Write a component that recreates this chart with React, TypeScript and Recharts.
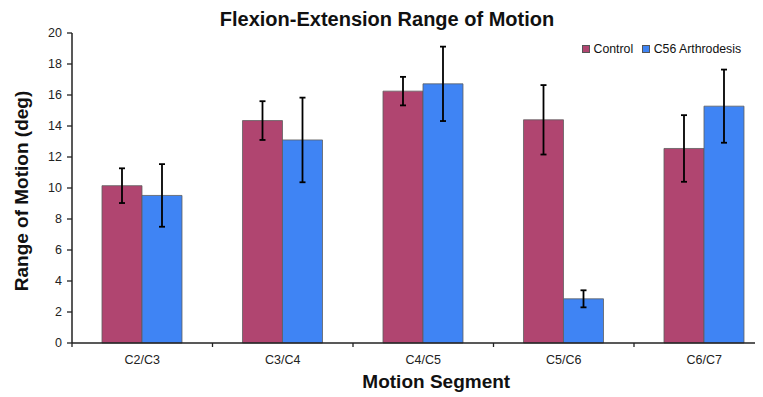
import React from 'react';
import { BarChart, Bar, XAxis, YAxis, ErrorBar, Legend, Label } from 'recharts';

const categories = ['C2/C3', 'C3/C4', 'C4/C5', 'C5/C6', 'C6/C7'];
const controlValues = [10.15, 14.35, 16.25, 14.4, 12.55];
const controlErrors = [1.12, 1.25, 0.92, 2.24, 2.15];
const arthrodesisValues = [9.52, 13.1, 16.72, 2.85, 15.28];
const arthrodesisErrors = [2.02, 2.73, 2.4, 0.55, 2.36];
const yTicks = [0, 2, 4, 6, 8, 10, 12, 14, 16, 18, 20];

const seriesNames = ['Control', 'C56 Arthrodesis'];
const colors = ['#B04570', '#3F84F4'];

const data = categories.map((c, i) => ({
  segment: c,
  control: controlValues[i],
  controlErr: controlErrors[i],
  arth: arthrodesisValues[i],
  arthErr: arthrodesisErrors[i],
}));

const FONT = '"Liberation Sans", Arial, Helvetica, sans-serif';
const CHART_W = 780;
const CHART_H = 397;
const MARGIN = { top: 33, right: 5.5, left: 0, bottom: 0 };
const Y_W = 72;
const PLOT_W = CHART_W - Y_W - MARGIN.left - MARGIN.right;
const AXIS = '#222';

const XTick = (props: any) => {
  const { x, y, payload, index } = props;
  const half = payload && typeof payload.offset === 'number' && payload.offset > 0 ? payload.offset : PLOT_W / categories.length / 2;
  const last = index === categories.length - 1;
  return (
    <g>
      <line x1={x - half} y1={y} x2={x - half} y2={y + 4} stroke={AXIS} strokeWidth={1.3} />
      {last && <line x1={x + half} y1={y} x2={x + half} y2={y + 4} stroke={AXIS} strokeWidth={1.3} />}
      <text x={x} y={y + 21} textAnchor="middle" fontSize={12.5} fill="#222" fontFamily={FONT}>
        {payload.value}
      </text>
    </g>
  );
};

const renderYLabel = (props: any) => {
  const vb = props.viewBox || { x: 0, y: 33, width: 72, height: 310 };
  const cx = vb.x + 28;
  const cy = vb.y + vb.height / 2 + 3;
  return (
    <text x={cx} y={cy} transform={`rotate(-90 ${cx} ${cy})`} textAnchor="middle" fontSize={19} fontWeight="bold" fill="#111" fontFamily={FONT}>
      Range of Motion (deg)
    </text>
  );
};

const renderXLabel = (props: any) => {
  const vb = props.viewBox || { x: 72, y: 343, width: PLOT_W, height: 54 };
  return (
    <text x={vb.x + vb.width / 2 + 13} y={vb.y + 45} textAnchor="middle" fontSize={19} fontWeight="bold" fill="#111" fontFamily={FONT}>
      Motion Segment
    </text>
  );
};

const renderLegend = (props: any) => {
  const payload = [...(props.payload || [])].sort(
    (a: any, b: any) => seriesNames.indexOf(a.value) - seriesNames.indexOf(b.value)
  );
  return (
    <div style={{ display: 'flex', alignItems: 'center', fontFamily: FONT, fontSize: 12.3, lineHeight: '14px', color: '#111' }}>
      {payload.map((p: any, i: number) => (
        <div key={i} style={{ display: 'flex', alignItems: 'center', marginRight: 9 }}>
          <span style={{ display: 'inline-block', width: 6, height: 6, background: p.color, border: '0.5px solid #555', marginRight: 3.5 }} />
          <span>{p.value}</span>
        </div>
      ))}
    </div>
  );
};

export default function App() {
  return (
    <div style={{ position: 'relative', marginLeft: -8, marginTop: -8, width: 763, height: 397, overflow: 'hidden', background: '#fff' }}>
      <div style={{ position: 'absolute', left: 0, top: 9, width: 774, textAlign: 'center', fontFamily: FONT, fontSize: 20, lineHeight: '20px', fontWeight: 'bold', color: '#111', zIndex: 2 }}>
        Flexion-Extension Range of Motion
      </div>
      <BarChart width={CHART_W} height={CHART_H} data={data} margin={MARGIN} barCategoryGap="21.35%" barGap={0}>
        <XAxis
          dataKey="segment"
          height={54}
          tick={<XTick />}
          tickLine={false}
          tickSize={0}
          tickMargin={0}
          axisLine={{ stroke: AXIS, strokeWidth: 1.5 }}
          interval={0}
        >
          <Label content={renderXLabel} />
        </XAxis>
        <YAxis
          width={Y_W}
          domain={[0, 20]}
          ticks={yTicks}
          interval={0}
          tickSize={5}
          tickMargin={5}
          tick={{ fontSize: 12.5, fill: '#222', fontFamily: FONT }}
          tickLine={{ stroke: AXIS, strokeWidth: 1.3 }}
          axisLine={{ stroke: AXIS, strokeWidth: 1.5 }}
        >
          <Label content={renderYLabel} />
        </YAxis>
        <Legend
          layout="horizontal"
          verticalAlign="middle"
          align="center"
          content={renderLegend}
          wrapperStyle={{ left: 582, top: 42, width: 'auto', right: 'auto', bottom: 'auto' }}
        />
        <Bar dataKey="control" name={seriesNames[0]} fill={colors[0]} stroke="#5e5e5e" strokeWidth={0.8} isAnimationActive={false}>
          <ErrorBar dataKey="controlErr" width={3} stroke="#000" strokeWidth={1.8} direction="y" />
        </Bar>
        <Bar dataKey="arth" name={seriesNames[1]} fill={colors[1]} stroke="#5e5e5e" strokeWidth={0.8} isAnimationActive={false}>
          <ErrorBar dataKey="arthErr" width={3} stroke="#000" strokeWidth={1.8} direction="y" />
        </Bar>
      </BarChart>
    </div>
  );
}
